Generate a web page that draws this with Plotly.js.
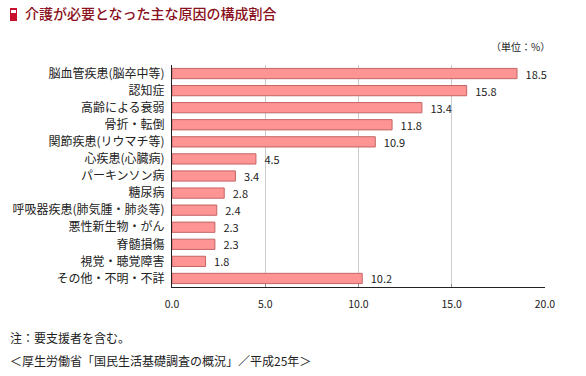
<!DOCTYPE html>
<html><head><meta charset="utf-8">
<script src="https://cdn.plot.ly/plotly-3.0.1.min.js"></script>
<style>html,body{margin:0;padding:0;background:#fff;}#c{width:586px;height:376px;}</style>
</head><body><div id="c"></div>
<script>
const categories = ["脳血管疾患(脳卒中等)","認知症","高齢による衰弱","骨折・転倒","関節疾患(リウマチ等)","心疾患(心臓病)","パーキンソン病","糖尿病","呼吸器疾患(肺気腫・肺炎等)","悪性新生物・がん","脊髄損傷","視覚・聴覚障害","その他・不明・不詳"];
const values = [18.5,15.8,13.4,11.8,10.9,4.5,3.4,2.8,2.4,2.3,2.3,1.8,10.2];
const tickVals = [0,5,10,15,20];
const tickText = ["0.0","5.0","10.0","15.0","20.0"];
const font = "'Noto Sans CJK JP', 'Noto Sans', sans-serif";
const trace = {
  type: "bar", orientation: "h",
  x: values, y: categories,
  marker: {color: "#ff9494", line: {color: "#c46464", width: 1}},
  width: 0.6,
  text: values.map(v => "\u2002" + v.toFixed(1)), textposition: "outside", constraintext: "none",
  textfont: {family: font, size: 11, color: "#222"},
  cliponaxis: false, hoverinfo: "none"
};
const layout = {
  width: 586, height: 376,
  margin: {l: 172, r: 41, t: 65, b: 89},
  paper_bgcolor: "#fff", plot_bgcolor: "#fff",
  showlegend: false, bargap: 0.4,
  font: {family: font, size: 11, color: "#222"},
  xaxis: {range: [0, 20], tickvals: tickVals, ticktext: tickText, showgrid: true, gridcolor: "#cccccc", gridwidth: 1,
    zeroline: false, showline: true, linecolor: "#222", linewidth: 1, ticks: "inside", ticklen: 3, tickcolor: "#888",
    ticklabelstandoff: 7,
    tickfont: {family: font, size: 10.5, color: "#222"}, fixedrange: true},
  yaxis: {autorange: "reversed", showline: true, linecolor: "#222", linewidth: 1, ticks: "outside", ticklen: 4, tickcolor: "rgba(0,0,0,0)",
    tickfont: {family: font, size: 12, color: "#222"}, fixedrange: true, automargin: false},
  annotations: [
    {text: "介護が必要となった主な原因の構成割合", xref: "paper", yref: "paper", x: -149/373, y: 1+52/222, xanchor: "left", yanchor: "middle",
     showarrow: false, font: {family: font, size: 14, color: "#8b1020", weight: 500}},
    {text: "（単位：%）", xref: "paper", yref: "paper", x: 1.02, y: 1+19/222, xanchor: "right", yanchor: "middle",
     showarrow: false, font: {family: font, size: 10, color: "#222"}},
    {text: "注：要支援者を含む。", xref: "paper", yref: "paper", x: -164/373, y: -(337-287)/222, xanchor: "left", yanchor: "middle",
     showarrow: false, font: {family: font, size: 12, color: "#222"}},
    {text: "＜厚生労働省「国民生活基礎調査の概況」／平成25年＞", xref: "paper", yref: "paper", x: -164/373, y: -(360-287)/222, xanchor: "left", yanchor: "middle",
     showarrow: false, font: {family: font, size: 12, color: "#222"}}
  ],
  shapes: [
    {type: "rect", xref: "paper", yref: "paper", x0: -162/373, x1: -155/373, y0: 1+44/222, y1: 1+57/222, fillcolor: "#c8102e", line: {width: 0}},
    {type: "rect", xref: "paper", yref: "paper", x0: -161/373, x1: -156/373, y0: 1+52/222, y1: 1+55/222, fillcolor: "#ffffff", line: {width: 0}}
  ]
};
Plotly.newPlot("c", [trace], layout, {displayModeBar: false, staticPlot: true});
</script></body></html>
